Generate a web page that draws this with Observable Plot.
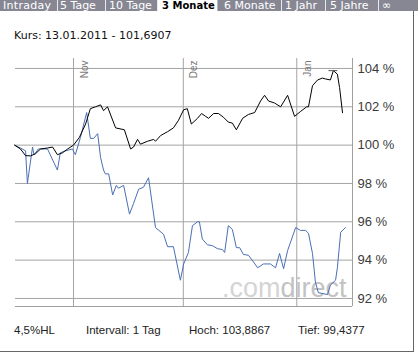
<!DOCTYPE html>
<html>
<head>
<meta charset="utf-8">
<script src="https://cdn.jsdelivr.net/npm/d3@7"></script>
<script src="https://cdn.jsdelivr.net/npm/@observablehq/plot@0.6"></script>
<style>
  html, body { margin: 0; padding: 0; background: #fff; }
  #wrap { position: relative; width: 418px; height: 356px; background: #fff; overflow: hidden; }
  #chart { position: absolute; left: 0; top: 0; }
  #tabs { position: absolute; left: 0; top: 0; width: 418px; height: 11px; background: #878794; overflow: hidden;
          font-family: 'DejaVu Sans', Verdana, sans-serif; font-size: 11px; line-height: 11px; color: #fff; }
  #tabs span { position: absolute; top: 0; white-space: nowrap; }
  #tabs .sep { position: absolute; top: 0; width: 1px; height: 11px; background: #e8e8ee; }
  #tabs .active { position: absolute; top: 0; left: 158px; width: 59px; height: 11px; background: #fff; }
  #kurs { position: absolute; left: 14px; top: 29px; font-family: 'DejaVu Sans', Verdana, sans-serif; font-size: 11px; line-height: 13px; color: #111; white-space: nowrap; }
  .foot { position: absolute; top: 324px; font-family: 'Liberation Sans', Arial, sans-serif; font-size: 11.5px; line-height: 13px; color: #222; white-space: nowrap; }
  #bright { position: absolute; left: 413px; top: 11px; width: 1px; height: 341px; background: #666; }
  #bbottom { position: absolute; left: 0; top: 351px; width: 414px; height: 1px; background: #666; }
</style>
</head>
<body>
<div id="wrap">
  <div id="chart"></div>
  <div id="tabs">
    <span style="left:3px;letter-spacing:0.3px">Intraday</span>
    <div class="sep" style="left:57px"></div>
    <span style="left:60px">5 Tage</span>
    <div class="sep" style="left:105px"></div>
    <span style="left:109px">10 Tage</span>
    <div class="sep" style="left:157px"></div>
    <div class="active"></div>
    <span style="left:162px;color:#000;font-weight:bold;font-size:10px;line-height:12px">3 Monate</span>
    <div class="sep" style="left:217px;background:#b8b8be"></div>
    <span style="left:224px">6 Monate</span>
    <div class="sep" style="left:281px"></div>
    <span style="left:285px">1 Jahr</span>
    <div class="sep" style="left:325px"></div>
    <span style="left:330px">5 Jahre</span>
    <div class="sep" style="left:378px"></div>
    <span style="left:382px">∞</span>
  </div>
  <div id="kurs">Kurs: 13.01.2011 - 101,6907</div>
  <div class="foot" style="left:14px">4,5%HL</div>
  <div class="foot" style="left:86px">Intervall: 1 Tag</div>
  <div class="foot" style="left:189px">Hoch: 103,8867</div>
  <div class="foot" style="left:298px">Tief: 99,4377</div>
  <div id="bright"></div>
  <div id="bbottom"></div>
</div>
<script>
// Days relative to 1 Nov 2010
const blackDays = [-16.1,-14.5,-13.1,-11.7,-10.4,-9.0,-7.1,-5.7,-4.4,-3.0,-1.6,0,1.6,3.3,4.6,6.0,7.4,8.2,9.3,11.5,13.9,15.6,16.4,17.5,18.3,20.2,21.9,22.4,23.8,25.7,27.3,28.7,30.1,31.1,32.2,33.9,35.0,36.1,36.9,38.3,39.6,41.0,42.3,43.4,44.5,46.2,47.8,49.5,51.1,52.2,53.3,54.9,56.6,58.5,60.4,62.0,63.7,64.2,65.3,66.7,68.0,68.9,70.2,71.0,72.1,72.7,73.5];
const blackValues = [100.0,99.8,99.45,99.44,99.55,99.8,99.85,99.9,99.5,99.6,99.8,100.0,100.4,101.1,101.9,102.0,102.1,101.8,102.0,100.9,100.8,99.8,99.9,100.3,100.05,100.2,100.3,100.2,100.5,100.7,100.9,101.3,101.85,101.9,101.1,101.4,101.65,101.5,101.4,101.65,101.65,101.45,101.2,101.15,100.8,101.4,101.6,101.7,102.3,102.6,102.3,102.2,102.0,102.6,101.5,101.75,102.0,102.0,103.1,103.4,103.5,103.45,103.4,103.8867,103.7,103.0,101.6907];

const blueDays = [-16.1,-14.5,-13.1,-12.6,-11.2,-10.8,-9.6,-7.1,-4.4,-3.6,-2.2,-0.3,0.5,1.9,3.6,4.6,5.5,6.6,7.4,8.2,8.7,9.6,10.7,11.7,12.3,13.7,15.3,16.4,17.8,19.1,20.5,22.4,24.6,25.7,27.3,29.2,30.1,31.4,32.5,33.9,34.4,35.2,36.6,38.0,39.3,40.7,41.3,42.3,43.4,44.5,45.4,46.4,47.8,49.2,50.3,51.9,53.8,55.2,56.3,57.4,58.5,60.7,62.0,63.4,64.2,65.3,66.1,66.9,68.3,69.4,70.2,71.6,72.1,73.0,74.3];
const blueValues = [100,99.85,99.7,98.0,99.9,99.5,99.8,99.8,98.7,99.6,99.7,99.8,99.5,100.4,101.7,100.35,100.35,100.6,99.35,98.7,98.5,98.5,97.4,97.9,97.75,97.9,96.4,96.95,97.7,97.8,98.3,95.7,95.35,94.7,94.7,92.95,93.8,94.4,95.8,96.0,96.0,95.1,94.8,94.75,94.6,94.55,94.4,95.8,95.6,94.65,94.65,94.3,94.25,93.9,93.6,93.8,93.8,93.6,94.35,93.55,94.5,95.7,95.55,95.55,95.4,94.35,92.85,92.3,92.25,92.2,92.7,92.95,93.6,95.45,95.7];

const monthDates = ["2010-11-01", "2010-12-01", "2011-01-01"];
const monthLabels = ["Nov", "Dez", "Jan"];
const yTicks = [92, 94, 96, 98, 100, 102, 104];
const hochValue = 103.8867;

const base = Date.UTC(2010, 10, 1);
const toDate = d => new Date(base + d * 864e5);
const black = blackDays.map((d, i) => ({date: toDate(d), value: blackValues[i]}));
const blue = blueDays.map((d, i) => ({date: toDate(d), value: blueValues[i]}));
const months = monthDates.map((s, i) => ({date: new Date(s), label: monthLabels[i]}));
const hochDay = blackDays[blackValues.indexOf(d3.max(blackValues))];

const xDomain = [toDate(-15.85), toDate(76.23)];
const yDomain = [91.58, 104.52];

const chart = Plot.plot({
  width: 418,
  height: 356,
  marginLeft: 15,
  marginRight: 66,
  marginTop: 58,
  marginBottom: 50,
  style: {fontFamily: "'Liberation Sans', Arial, sans-serif", fontSize: "13px", color: "#3a3a3a", background: "transparent"},
  x: {type: "utc", domain: xDomain, axis: null},
  y: {domain: yDomain, axis: "right", ticks: yTicks, tickSize: 0, tickPadding: 5, tickFormat: d => d + " %", label: null},
  marks: [
    Plot.ruleY(yTicks, {stroke: "#a4a4a4"}),
    Plot.ruleX(months, {x: "date", stroke: "#a4a4a4"}),
    Plot.ruleX([xDomain[1]], {stroke: "#a0a0a0"}),
    Plot.ruleY([yDomain[0]], {stroke: "#a0a0a0"}),
    Plot.text([".com"], {text: d => d, frameAnchor: "bottom-right", textAnchor: "end", lineAnchor: "bottom", dx: -72, dy: -10, fontSize: 27, fill: "#d4d4d4"}),
    Plot.text(["direct"], {text: d => d, frameAnchor: "bottom-right", textAnchor: "end", lineAnchor: "bottom", dx: -6, dy: -10, fontSize: 27, fill: "#c2c2c2"}),
    Plot.text(months, {x: "date", text: "label", frameAnchor: "top", rotate: -90, textAnchor: "end", dx: 7, dy: 2, fontSize: 10, fill: "#7a7a7a"}),
    Plot.line(blue, {x: "date", y: "value", stroke: "#4a6fb5", strokeWidth: 1}),
    Plot.line(black, {x: "date", y: "value", stroke: "#000", strokeWidth: 1}),
    Plot.ruleY([hochValue], {y: d => d, x1: () => toDate(hochDay - 1.2), x2: () => toDate(hochDay + 1.2), stroke: "#555"})
  ]
});
document.getElementById("chart").appendChild(chart);
</script>
</body>
</html>
